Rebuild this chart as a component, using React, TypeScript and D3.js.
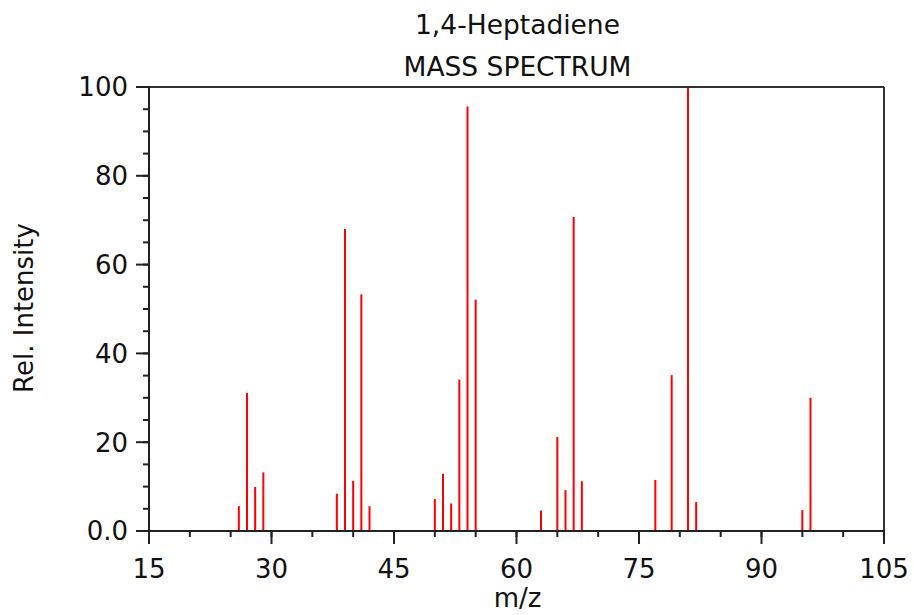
import React from "react";
import * as d3 from "d3";

const mz = [26, 27, 28, 29, 38, 39, 40, 41, 42, 50, 51, 52, 53, 54, 55, 63, 65, 66, 67, 68, 77, 79, 81, 82, 95, 96];
const intensity = [5.6, 31.1, 9.9, 13.2, 8.4, 68.0, 11.3, 53.3, 5.6, 7.2, 12.9, 6.2, 34.1, 95.6, 52.1, 4.6, 21.2, 9.2, 70.7, 11.2, 11.5, 35.1, 100, 6.5, 4.7, 30.0];
const xMajorTicks = [15, 30, 45, 60, 75, 90, 105];
const yMajorTicks = [0, 20, 40, 60, 80, 100];
const yTickLabels = ["0.0", "20", "40", "60", "80", "100"];
const titleLines = ["1,4-Heptadiene", "MASS SPECTRUM"];

export default function App() {
  const W = 914, H = 615;
  const left = 149, right = 884, top = 87, bottom = 531;
  const x = d3.scaleLinear().domain([15, 105]).range([left, right]);
  const y = d3.scaleLinear().domain([0, 100]).range([bottom, top]);
  const xMinor = d3.range(15, 105.01, 5);
  const yMinor = d3.range(0, 100.01, 5);
  const font = "'DejaVu Sans', sans-serif";
  const axisColor = "#222";
  const cx = (left + right) / 2;
  return (
    <svg width={W} height={H} style={{ position: "absolute", left: 0, top: 0 }} fontFamily={font}>
      <rect x={0} y={0} width={W} height={H} fill="white" />
      {/* titles */}
      <text x={cx + 1} y={34} textAnchor="middle" fontSize={26.5} fill="#111">{titleLines[0]}</text>
      <text x={cx + 1} y={76} textAnchor="middle" fontSize={26.5} fill="#111">{titleLines[1]}</text>
      {/* peaks */}
      {mz.map((m, i) => (
        <line key={"p" + i} x1={x(m)} x2={x(m)} y1={y(0)} y2={y(intensity[i])} stroke="#ff0000" strokeWidth={2} />
      ))}
      {/* frame */}
      <line x1={left} x2={right} y1={top} y2={top} stroke="#333" strokeWidth={2} />
      <line x1={right} x2={right} y1={top} y2={bottom} stroke="#333" strokeWidth={2} />
      <line x1={left} x2={left} y1={top - 1} y2={bottom + 1} stroke={axisColor} strokeWidth={2} />
      <line x1={left - 1} x2={right + 1} y1={bottom} y2={bottom} stroke={axisColor} strokeWidth={2} />
      {/* y ticks */}
      {yMinor.map((v) => (
        <line key={"ym" + v} x1={left - 6} x2={left} y1={y(v)} y2={y(v)} stroke={axisColor} strokeWidth={2} />
      ))}
      {yMajorTicks.map((v, i) => (
        <g key={"yM" + v}>
          <line x1={left - 13} x2={left} y1={y(v)} y2={y(v)} stroke={axisColor} strokeWidth={2} />
          <text x={128} y={y(v)} dy="0.36em" textAnchor="end" fontSize={26} fill="#111">{yTickLabels[i]}</text>
        </g>
      ))}
      {/* x ticks */}
      {xMinor.map((v) => (
        <line key={"xm" + v} x1={x(v)} x2={x(v)} y1={bottom} y2={bottom + 6} stroke={axisColor} strokeWidth={2} />
      ))}
      {xMajorTicks.map((v) => (
        <g key={"xM" + v}>
          <line x1={x(v)} x2={x(v)} y1={bottom} y2={bottom + 13} stroke={axisColor} strokeWidth={2} />
          <text x={x(v)} y={578} textAnchor="middle" fontSize={26} fill="#111">{v}</text>
        </g>
      ))}
      {/* axis titles */}
      <text x={cx + 1} y={607} textAnchor="middle" fontSize={26} fill="#111">m/z</text>
      <text transform={`translate(33, ${(top + bottom) / 2 - 1}) rotate(-90)`} textAnchor="middle" fontSize={26} fill="#111">Rel. Intensity</text>
    </svg>
  );
}
